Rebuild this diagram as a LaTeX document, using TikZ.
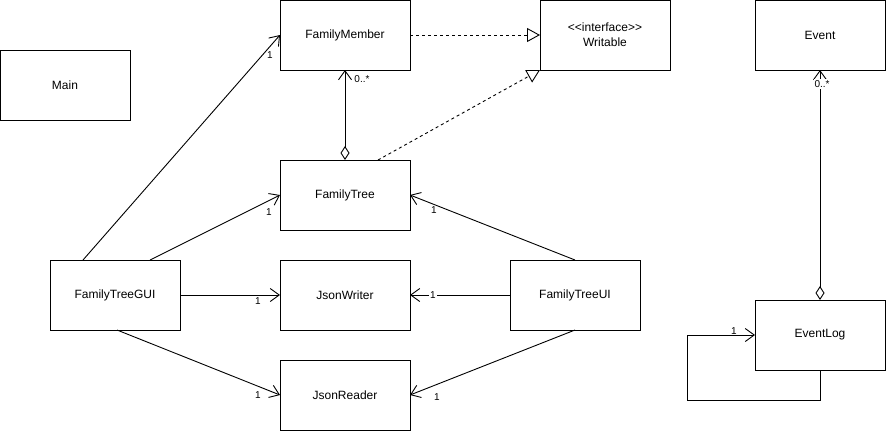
\documentclass[tikz,border=0pt]{standalone}
\usepackage{fontspec}
\setmainfont{Liberation Sans}
\usetikzlibrary{positioning}
\usetikzlibrary{arrows.meta}

\begin{document}
\begin{tikzpicture}[
  x=1pt, y=-1pt,
  cls/.style={rectangle, draw, line width=1pt, outer sep=0pt, minimum width=130pt, minimum height=70pt, align=center, font=\fontsize{12}{15}\selectfont},
  mult/.style={font=\fontsize{10}{12}\selectfont, inner sep=1pt},
  assoc/.style={-{Straight Barb[length=9pt, width=13pt]}, line width=0.9pt},
  agg/.style={{Diamond[open, length=14pt, width=9pt]}-{Straight Barb[length=9pt, width=13pt]}, line width=0.9pt},
  real/.style={-{Triangle[open, length=13pt, width=14pt]}, dash pattern=on 3pt off 3pt, line width=0.9pt}
]
  \useasboundingbox (0,0) rectangle (886,432);

  \node[cls] (main) at (65,85) {Main};
  \node[cls] (fmember) at (345,35) {FamilyMember};
  \node[cls, right=130pt of fmember] (writable) {\textless\kern0pt\textless\kern0pt interface\textgreater\kern0pt\textgreater\\Writable};
  \node[cls, right=85pt of writable] (event) {Event};
  \node[cls, below=90pt of fmember] (ftree) {FamilyTree};
  \node[cls, below=30pt of ftree] (jwriter) {JsonWriter};
  \node[cls, below=30pt of jwriter] (jreader) {JsonReader};
  \node[cls, left=100pt of jwriter] (gui) {FamilyTreeGUI};
  \node[cls, right=100pt of jwriter] (ftui) {FamilyTreeUI};
  \node[cls, below=230pt of event] (elog) {EventLog};
  \coordinate (loop) at (687,400);

  % FamilyTreeGUI
  \draw[assoc] ([xshift=-32pt]gui.north) -- (fmember.west) node[mult, at end, xshift=-10pt, yshift=-20pt] {1};
  \draw[assoc] ([xshift=35pt]gui.north) -- (ftree.west) node[mult, at end, xshift=-11pt, yshift=-17pt] {1};
  \draw[assoc] (gui.east) -- (jwriter.west) node[mult, at end, xshift=-22pt, yshift=-6pt] {1};
  \draw[assoc] ([xshift=2pt]gui.south) -- (jreader.west) node[mult, at end, fill=white, xshift=-22pt] {1};

  % FamilyTreeUI
  \draw[assoc] (ftui.north) -- (ftree.east) node[mult, at end, xshift=24pt, yshift=-15pt] {1};
  \draw[assoc] (ftui.west) -- (jwriter.east) node[mult, at end, fill=white, xshift=23pt] {1};
  \draw[assoc] (ftui.south) -- (jreader.east) node[mult, at end, xshift=27pt, yshift=-2pt] {1};

  % FamilyTree / FamilyMember / Writable
  \draw[agg] (ftree.north) -- (fmember.south) node[mult, at end, xshift=17pt, yshift=-9pt] {0..*};
  \draw[real] (fmember.east) -- (writable.west);
  \draw[real] ([xshift=33pt]ftree.north) -- (writable.south west);

  % EventLog
  \draw[agg] (elog.north) -- (event.south) node[mult, at end, fill=white, xshift=2pt, yshift=-14pt] {0..*};
  \draw[assoc] (elog.south) |- (loop) |- (elog.west) node[mult, at end, fill=white, xshift=-21pt, yshift=4pt] {1};
\end{tikzpicture}
\end{document}
